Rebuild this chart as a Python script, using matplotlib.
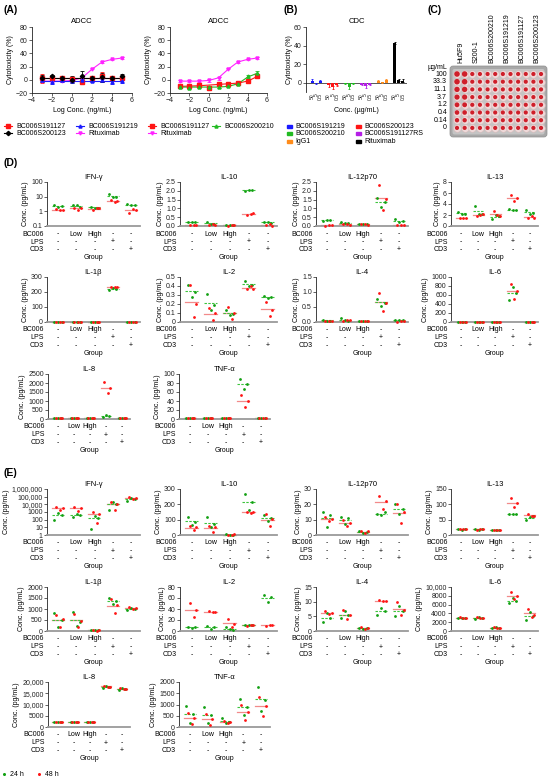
import matplotlib
matplotlib.use('Agg')
import matplotlib.pyplot as plt
import numpy as np
from matplotlib.patches import FancyBboxPatch

plt.rcParams['font.family'] = ['Liberation Sans', 'DejaVu Sans']

# ---------------- DATA ----------------
# Panel A (ADCC)
log_conc = [-3, -2, -1, 0, 1, 2, 3, 4, 5]
a1_s191127 = [2, 3, 2, 1, -3, 3, 5, 3, 3]
a1_s191127_err = [7, 2, 2, 2, 4, 2, 7, 2, 2]
a1_s191127_fit = [2, 2, 2, 2, 2, 2, 2, 2, 2]
a1_s191219 = [0, -3, -1, -2, -1, -2, -1, -4, -2]
a1_s191219_err = [2, 4, 2, 2, 2, 2, 2, 3, 3]
a1_s191219_fit = [-2, -2, -2, -2, -2, -2, -2, -2, -2]
a1_s200123 = [2, 5, 3, 0, 5, 3, 4, 3, 6]
a1_s200123_err = [6, 2, 2, 5, 8, 2, 7, 2, 3]
a1_s200123_fit = [3, 3, 3, 3, 3, 3, 3, 3, 3]
ritux = [-2, -2, -2, -1, 2, 17, 27, 31, 33]
ritux_err = [1, 1, 1, 2, 2, 1, 1, 1, 1]
ritux_fit = [-2, -2, -2, -1, 3, 16, 27, 31, 33]
a2_s191127 = [-10, -10, -8, -13, -6, -6, -5, -2, 5]
a2_s191127_err = [2, 2, 1, 2, 3, 1, 1, 2, 2]
a2_s191127_fit = [-10, -9.5, -9, -8, -7, -6, -5, -2, 5]
a2_s200210 = [-11, -12, -11, -11, -11, -10, -6, 5, 10]
a2_s200210_err = [2, 2, 1, 1, 1, 1, 1, 2, 4]
a2_s200210_fit = [-11, -11, -11, -11, -11, -10, -6, 4, 10]

# Panel B (CDC)
cdc_groups = ['BC006S191219', 'BC006S200123', 'BC006S200210',
              'BC006S191127RS', 'IgG1', 'Rituximab']
cdc_doses = ['50', '5', '0.5']
cdc_values = [[2, -0.5, 1.5], [-3, -5, -3], [-1, -5, -1],
              [-2, -4, -2], [2, 0.5, 3], [43, 3, 2]]
cdc_errors = [[1.5, 0.5, 1], [1.5, 1.5, 1], [0.5, 1.5, 0.5],
              [1, 1.5, 1], [1, 0.3, 1.5], [1, 1.5, 1.5]]

# Panel C (plate)
plate_samples = ['Hu5F9', 'S200-1', 'BC006S200210', 'BC006S191219',
                 'BC006S191127', 'BC006S200123']
plate_conc = ['100', '33.3', '11.1', '3.7', '1.2', '0.4', '0.14', '0']
hu5f9_spot = [16, 16, 15, 14, 12, 11, 10, 9]
other_spot = [9, 9, 9, 9, 9, 9, 9, 9]

# Panels D/E group labels
bc006_row = ['-', 'Low', 'High', '-', '-']
lps_row = ['-', '-', '-', '+', '-']
cd3_row = ['-', '-', '-', '-', '+']

# Panel D cytokines (24 h / 48 h replicates per group)
D_IFNg_24 = [[2.8, 2.0, 2.2], [2.5, 2.5, 2.0], [2.0, 1.8, 1.7], [16, 10, 10], [3.0, 2.5, 2.9]]
D_IFNg_48 = [[1.5, 1.2, 1.2], [1.8, 1.3, 1.7], [1.3, 1.6, 1.7], [6.0, 4.5, 5.0], [0.8, 1.5, 1.3]]
D_IL10_24 = [[0.22, 0.22, 0.22], [0.25, 0.12, 0.10], [0.07, 0.05, 0.03], [2.0, 2.05, 2.05], [0.22, 0.25, 0.15]]
D_IL10_48 = [[0.03, 0.05, 0.07], [0.05, 0.10, 0.06], [0.02, 0.04, 0.03], [0.65, 0.70, 0.75], [0.03, 0.10, 0.02]]
D_IL12_24 = [[0.30, 0.35, 0.35], [0.25, 0.15, 0.15], [0.12, 0.10, 0.14], [1.60, 1.10, 1.35], [0.38, 0.25, 0.28]]
D_IL12_48 = [[0.02, 0.05, 0.08], [0.10, 0.12, 0.08], [0.12, 0.14, 0.05], [2.35, 0.90, 1.55], [0.05, 0.03, 0.07]]
D_IL13_24 = [[2.5, 2.2, 2.2], [3.7, 2.2, 2.2], [1.2, 2.0, 1.9], [3.1, 3.0, 2.9], [3.0, 2.2, 2.3]]
D_IL13_48 = [[1.5, 1.5, 1.5], [1.8, 2.0, 2.2], [2.7, 2.0, 1.9], [5.7, 4.5, 5.1], [1.5, 1.8, 1.5]]
D_IL1b_24 = [[1, 1, 1], [1, 1, 1], [1, 1, 1], [215, 225, 220], [1, 1, 1]]
D_IL1b_48 = [[1, 1, 1], [1, 1, 1], [1, 1, 1], [235, 230, 232], [1, 1, 1]]
D_IL2_24 = [[0.41, 0.28, 0.33], [0.31, 0.13, 0.19], [0.13, 0.08, 0.09], [0.45, 0.40, 0.41], [0.29, 0.27, 0.28]]
D_IL2_48 = [[0.41, 0.05, 0.20], [0.15, 0.02, 0.10], [0.17, 0.03, 0.10], [0.37, 0.40, 0.37], [0.22, 0.07, 0.13]]
D_IL4_24 = [[0.07, 0.04, 0.04], [0.12, 0.05, 0.04], [0.02, 0.02, 0.02], [0.78, 0.53, 0.64], [0.07, 0.06, 0.08]]
D_IL4_48 = [[0.02, 0.03, 0.04], [0.02, 0.05, 0.05], [0.02, 0.02, 0.03], [0.98, 0.36, 0.64], [0.01, 0.02, 0.03]]
D_IL6_24 = [[5, 5, 5], [5, 5, 5], [5, 5, 5], [490, 780, 650], [5, 5, 5]]
D_IL6_48 = [[5, 5, 5], [5, 5, 5], [5, 5, 5], [850, 510, 680], [5, 5, 5]]
D_IL8_24 = [[30, 40, 50], [30, 40, 50], [40, 50, 60], [100, 200, 150], [30, 40, 50]]
D_IL8_48 = [[30, 50, 40], [70, 50, 60], [80, 50, 50], [2080, 1440, 1730], [40, 40, 40]]
D_TNF_24 = [[3, 3, 3], [3, 3, 3], [3, 3, 3], [89, 67, 78], [3, 3, 3]]
D_TNF_48 = [[3, 3, 3], [3, 3, 3], [3, 3, 3], [54, 26, 40], [3, 3, 3]]

# Panel E cytokines
E_IFNg_24 = [[100, 700, 400], [200, 600, 400], [7, 300, 150], [2000, 18000, 12000], [30000, 60000, 45000]]
E_IFNg_48 = [[5000, 2000, 3500], [5000, 1500, 3000], [1000, 40, 500], [20000, 2000, 12000], [100000, 50000, 70000]]
E_IL10_24 = [[120, 65, 85], [115, 55, 70], [4, 3, 2], [270, 160, 215], [130, 90, 110]]
E_IL10_48 = [[60, 30, 55], [60, 20, 55], [3, 2, 4], [148, 146, 150], [135, 60, 105]]
E_IL12_24 = [[15, 5, 13], [11.5, 7.5, 11], [2.5, 1.5, 2], [14, 13, 15], [20, 14, 17]]
E_IL12_48 = [[12, 9, 10.5], [10, 6, 8], [2.5, 1, 2.5], [25.5, 17, 22], [20.5, 8, 15]]
E_IL13_24 = [[18, 17, 19], [19, 17, 18], [16, 15, 17], [70, 70, 70], [50, 60, 61]]
E_IL13_48 = [[18, 18, 18], [17, 19, 18], [16, 16, 16], [120, 90, 105], [70, 62, 63]]
E_IL1b_24 = [[800, 180, 520], [850, 220, 430], [50, 30, 40], [1520, 1230, 1360], [960, 1040, 1000]]
E_IL1b_48 = [[750, 200, 550], [780, 200, 460], [60, 20, 40], [1440, 840, 1170], [1080, 1000, 1040]]
E_IL2_24 = [[8, 5, 8], [10, 4, 7], [7, 3, 2], [11, 11, 11], [66, 52, 62]]
E_IL2_48 = [[51, 25, 38], [36, 34, 35], [21, 8, 13], [10, 11, 10.5], [10, 11, 10.5]]
E_IL4_24 = [[3, 6, 4.5], [4.3, 6.8, 5.6], [1.1, 0.8, 1.1], [5.5, 7.8, 6.8], [5.0, 8.5, 6.9]]
E_IL4_48 = [[6.7, 5.7, 6.2], [7.2, 4.0, 5.6], [1.2, 0.8, 1.0], [10.5, 10.2, 10.2], [9.8, 5.5, 7.2]]
E_IL6_24 = [[3000, 3000, 3000], [2700, 3100, 2900], [600, 800, 700], [6300, 7500, 6900], [2400, 4400, 3400]]
E_IL6_48 = [[3100, 2900, 3000], [3200, 2900, 2900], [900, 600, 750], [8900, 7200, 7900], [5100, 3200, 3700]]
E_IL8_24 = [[2200, 2200, 2200], [2200, 2200, 2200], [2200, 2200, 2200], [17300, 18200, 17900], [16500, 17200, 16700]]
E_IL8_48 = [[2200, 2200, 2200], [2200, 2200, 2200], [2300, 2300, 2300], [18200, 18000, 17900], [17300, 16700, 17000]]
E_TNF_24 = [[940, 180, 560], [870, 170, 520], [380, 200, 230], [1240, 520, 880], [1780, 700, 1210]]
E_TNF_48 = [[620, 130, 390], [600, 110, 370], [250, 200, 210], [990, 320, 670], [1340, 480, 940]]

# ---------------- STYLE / LAYOUT ----------------
W, H = 550, 779
FS = 5
GREEN = '#12a012'
GREEN_L = '#3cc43c'
RED = '#ff1414'
SALMON = '#f28a8a'

fig = plt.figure(figsize=(W / 100, H / 100), dpi=100)
fig.patch.set_facecolor('white')


def add_ax(l, t, r, b):
    ax = fig.add_axes([l / W, 1 - b / H, (r - l) / W, (b - t) / H])
    ax.patch.set_alpha(0)
    return ax


ov = fig.add_axes([0, 0, 1, 1], zorder=10)
ov.set_xlim(0, W)
ov.set_ylim(H, 0)
ov.axis('off')
ov.patch.set_alpha(0)


def style_axes(ax):
    for s in ('top', 'right'):
        ax.spines[s].set_visible(False)
    for s in ('left', 'bottom'):
        ax.spines[s].set_linewidth(0.6)
        ax.spines[s].set_color('#222222')
    ax.tick_params(labelsize=FS, length=2, width=0.5, pad=1, colors='#222222')


# Panel labels
for lab, x, y in (('(A)', 3, 10), ('(B)', 283, 10), ('(C)', 428, 10),
                  ('(D)', 4, 163), ('(E)', 4, 473)):
    ov.text(x, y, lab, fontsize=7.5, fontweight='bold', va='center', ha='left')

# ---------------- PANEL A ----------------
def adcc(ax, series):
    style_axes(ax)
    for vals, err, fit, col, mk in series:
        ax.plot(log_conc, fit, color=col, lw=0.8, zorder=2)
        ax.errorbar(log_conc, vals, yerr=err, fmt=mk, color=col, ms=2.2,
                    elinewidth=0.6, capsize=1.2, capthick=0.6, lw=0, zorder=3)
    ax.set_xlim(-4, 6)
    ax.set_ylim(-20, 80)
    ax.set_xticks([-4, -2, 0, 2, 4, 6])
    ax.set_yticks([-20, 0, 20, 40, 60, 80])
    ax.set_title('ADCC', fontsize=5.5, pad=3)
    ax.set_xlabel('Log Conc. (ng/mL)', fontsize=FS, labelpad=2)
    ax.set_ylabel('Cytotoxicity (%)', fontsize=FS, labelpad=1)


axA1 = add_ax(32, 27, 132, 93)
adcc(axA1, [(ritux, ritux_err, ritux_fit, '#ff22ff', 'v'),
            (a1_s191127, a1_s191127_err, a1_s191127_fit, RED, 's'),
            (a1_s191219, a1_s191219_err, a1_s191219_fit, '#1a1aff', '^'),
            (a1_s200123, a1_s200123_err, a1_s200123_fit, 'black', 'D')])
axA2 = add_ax(170, 27, 267, 93)
adcc(axA2, [(ritux, ritux_err, ritux_fit, '#ff22ff', 'v'),
            (a2_s191127, a2_s191127_err, a2_s191127_fit, RED, 's'),
            (a2_s200210, a2_s200210_err, a2_s200210_fit, '#22bb22', '^')])


def leg_line(x, y, col, mk, text):
    ov.plot([x - 4, x + 4], [y, y], color=col, lw=0.8)
    ov.plot([x], [y], marker=mk, color=col, ms=2.2)
    ov.text(x + 8, y, text, fontsize=FS, va='center', ha='left')


leg_line(8, 126, RED, 's', 'BC006S191127')
leg_line(8, 133, 'black', 'D', 'BC006S200123')
leg_line(80, 126, '#1a1aff', '^', 'BC006S191219')
leg_line(80, 133, '#ff22ff', 'v', 'Rituximab')
leg_line(152, 126, RED, 's', 'BC006S191127')
leg_line(152, 133, '#ff22ff', 'v', 'Rituximab')
leg_line(216, 126, '#22bb22', '^', 'BC006S200210')

# ---------------- PANEL B ----------------
cdc_colors = ['#1a1aff', RED, '#22bb22', '#b41ee6', '#ff8c1a', 'black']
axB = add_ax(306, 27, 407, 92)
style_axes(axB)
axB.spines['bottom'].set_visible(False)
xpos, xlab = [], []
for g, (vals, errs, col) in enumerate(zip(cdc_values, cdc_errors, cdc_colors)):
    xs = [g * 4 + i for i in range(3)]
    axB.bar(xs, vals, width=0.7, color=col, zorder=2)
    axB.errorbar(xs, vals, yerr=errs, fmt='none', ecolor=col, elinewidth=0.6,
                 capsize=1.0, capthick=0.6, zorder=3)
    xpos += xs
    xlab += cdc_doses
axB.axhline(0, color='#555555', lw=0.7, zorder=1)
axB.set_xlim(-1.5, 23)
axB.set_ylim(-10, 60)
axB.set_yticks([0, 20, 40, 60])
axB.set_xticks(xpos)
axB.set_xticklabels(xlab, rotation=90, fontsize=3.6)
axB.tick_params(axis='x', length=0, pad=1)
axB.set_title('CDC', fontsize=5.5, pad=3)
axB.set_ylabel('Cytotoxicity (%)', fontsize=FS, labelpad=1)
ov.text(356, 110, 'Conc. (µg/mL)', fontsize=FS, ha='center', va='center')

for i, (name, col) in enumerate(zip(cdc_groups, cdc_colors)):
    cx = 289 if i % 2 == 0 else 358
    cy = 126 + 7.5 * (i // 2)
    ov.add_patch(plt.Rectangle((cx - 2.5, cy - 1.5), 5, 3, color=col))
    ov.text(cx + 6, cy, name, fontsize=FS, va='center', ha='left')

# ---------------- PANEL C ----------------
px0, py0, pdx, pdy = 457, 74, 7.64, 7.7
ov.add_patch(FancyBboxPatch((450, 66), 97, 71, boxstyle='round,pad=0,rounding_size=3',
                            fc='#a8a8a8', ec='#8f8f8f', lw=0.5))
ov.add_patch(FancyBboxPatch((452.5, 69), 92, 65.5, boxstyle='round,pad=0,rounding_size=2',
                            fc='#c4c4c4', ec='none'))
for r in range(len(plate_conc)):
    for c in range(2 * len(plate_samples)):
        cx, cy = px0 + c * pdx, py0 + r * pdy
        spot = hu5f9_spot[r] if c < 2 else other_spot[r]
        ov.scatter([cx], [cy], s=30, c='#eed9d9', edgecolors='#d7b9b9', linewidths=0.35, zorder=11)
        ov.scatter([cx], [cy], s=spot, c='#cf1f2a', edgecolors='none', zorder=12)
for k, name in enumerate(plate_samples):
    ov.text(px0 + (2 * k + 0.5) * pdx, 63, name, rotation=90, fontsize=FS,
            ha='center', va='bottom')
ov.text(447, 67, 'µg/mL', fontsize=FS, ha='right', va='center')
for r, lab in enumerate(plate_conc):
    ov.text(447, py0 + r * pdy, lab, fontsize=FS, ha='right', va='center')

# ---------------- PANELS D / E ----------------
OFF24 = [-0.2, 0.02, 0.2]
OFF48 = [-0.1, 0.12, 0.26]


def cyto(l, t, r, b, title, d24, d48, ylim, ticks, labels, log=False):
    ax = add_ax(l, t, r, b)
    style_axes(ax)
    ax.spines['bottom'].set_color('#9a9a9a')
    ax.spines['bottom'].set_linewidth(1.3)
    if log:
        ax.set_yscale('log')
    ax.set_ylim(*ylim)
    ax.set_xlim(0.4, 5.5)
    for g in range(5):
        xc = g + 1
        m48 = np.mean(d48[g])
        m24 = np.mean(d24[g])
        ax.plot([xc - 0.33, xc + 0.33], [m48, m48], color=SALMON, lw=0.9, zorder=2, clip_on=False)
        ax.plot([xc - 0.33, xc + 0.33], [m24, m24], color=GREEN_L, lw=0.8,
                ls=(0, (2.2, 1.2)), zorder=2.5, clip_on=False)
        ax.plot([xc + o for o in OFF24], d24[g], 'o', ms=2.0, color=GREEN, mec='none',
                zorder=3, clip_on=False)
        ax.plot([xc + o for o in OFF48], d48[g], 'o', ms=2.0, color=RED, mec='none',
                zorder=3, clip_on=False)
    ax.set_yticks(ticks)
    ax.set_yticklabels(labels)
    ax.yaxis.set_minor_locator(plt.NullLocator())
    ax.set_xticks([])
    ax.set_title(title, fontsize=5.5, pad=2.5)
    ax.set_ylabel('Conc. (pg/mL)', fontsize=FS, labelpad=1.5)
    hpx = b - t
    tr = ax.get_xaxis_transform()
    for dy, name, row in ((8, 'BC006', bc006_row), (16, 'LPS', lps_row), (23.5, 'CD3', cd3_row)):
        yy = -dy / hpx
        ax.text(0.4 - 3 * 5.1 / (r - l), yy, name, transform=tr, fontsize=FS,
                ha='right', va='center', clip_on=False)
        for g, s in enumerate(row):
            ax.text(g + 1, yy, s, transform=tr, fontsize=FS, ha='center', va='center', clip_on=False)
    ax.text(0.5, -31.5 / hpx, 'Group', transform=ax.transAxes, fontsize=FS,
            ha='center', va='center')
    return ax


COLS = [(47, 140), (180, 277), (316, 408), (451, 538)]
ROWS_D = [(182, 226), (277, 322), (374, 419)]
ROWS_E = [(489, 535), (587, 631), (682, 727)]

lin = lambda a: [str(v) for v in a]
f1 = lambda a: ['%.1f' % v for v in a]

D_specs = [
    ('IFN-γ', D_IFNg_24, D_IFNg_48, (0.1, 100), [0.1, 1, 10, 100], ['0.1', '1', '10', '100'], True),
    ('IL-10', D_IL10_24, D_IL10_48, (0, 2.5), [0, 0.5, 1, 1.5, 2, 2.5], f1([0, 0.5, 1, 1.5, 2, 2.5]), False),
    ('IL-12p70', D_IL12_24, D_IL12_48, (0, 2.5), [0, 0.5, 1, 1.5, 2, 2.5], f1([0, 0.5, 1, 1.5, 2, 2.5]), False),
    ('IL-13', D_IL13_24, D_IL13_48, (0, 8), [0, 2, 4, 6, 8], lin([0, 2, 4, 6, 8]), False),
    ('IL-1β', D_IL1b_24, D_IL1b_48, (0, 300), [0, 100, 200, 300], lin([0, 100, 200, 300]), False),
    ('IL-2', D_IL2_24, D_IL2_48, (0, 0.5), [0, 0.1, 0.2, 0.3, 0.4, 0.5], ['0', '0.1', '0.2', '0.3', '0.4', '0.5'], False),
    ('IL-4', D_IL4_24, D_IL4_48, (0, 1.5), [0, 0.5, 1, 1.5], f1([0, 0.5, 1, 1.5]), False),
    ('IL-6', D_IL6_24, D_IL6_48, (0, 1000), [0, 200, 400, 600, 800, 1000], lin([0, 200, 400, 600, 800, 1000]), False),
    ('IL-8', D_IL8_24, D_IL8_48, (0, 2500), [0, 500, 1000, 1500, 2000, 2500], lin([0, 500, 1000, 1500, 2000, 2500]), False),
    ('TNF-α', D_TNF_24, D_TNF_48, (0, 100), [0, 20, 40, 60, 80, 100], lin([0, 20, 40, 60, 80, 100]), False),
]
E_specs = [
    ('IFN-γ', E_IFNg_24, E_IFNg_48, (1, 1e6), [1, 10, 100, 1000, 1e4, 1e5, 1e6],
     ['1', '10', '100', '1000', '10,000', '100,000', '1,000,000'], True),
    ('IL-10', E_IL10_24, E_IL10_48, (0, 300), [0, 100, 200, 300], lin([0, 100, 200, 300]), False),
    ('IL-12p70', E_IL12_24, E_IL12_48, (0, 30), [0, 10, 20, 30], lin([0, 10, 20, 30]), False),
    ('IL-13', E_IL13_24, E_IL13_48, (0, 150), [0, 50, 100, 150], lin([0, 50, 100, 150]), False),
    ('IL-1β', E_IL1b_24, E_IL1b_48, (0, 2000), [0, 500, 1000, 1500, 2000], lin([0, 500, 1000, 1500, 2000]), False),
    ('IL-2', E_IL2_24, E_IL2_48, (0, 80), [0, 20, 40, 60, 80], lin([0, 20, 40, 60, 80]), False),
    ('IL-4', E_IL4_24, E_IL4_48, (0, 15), [0, 5, 10, 15], lin([0, 5, 10, 15]), False),
    ('IL-6', E_IL6_24, E_IL6_48, (0, 10000), [0, 2000, 4000, 6000, 8000, 10000],
     ['0', '2000', '4000', '6000', '8000', '10,000'], False),
    ('IL-8', E_IL8_24, E_IL8_48, (0, 20000), [0, 5000, 10000, 15000, 20000],
     ['0', '5000', '10,000', '15,000', '20,000'], False),
    ('TNF-α', E_TNF_24, E_TNF_48, (0, 2000), [0, 500, 1000, 1500, 2000], lin([0, 500, 1000, 1500, 2000]), False),
]

ROW3_COLS = [(48, 130), (179, 270)]
for specs, rows in ((D_specs, ROWS_D), (E_specs, ROWS_E)):
    for i, sp in enumerate(specs):
        ri, ci = divmod(i, 4)
        l, r = ROW3_COLS[ci] if ri == 2 else COLS[ci]
        t, b = rows[ri]
        cyto(l, t, r, b, *sp)

# bottom legend
ov.plot([4], [774], 'o', ms=2.2, color=GREEN, mec='none')
ov.text(10, 774, '24 h', fontsize=FS, va='center')
ov.plot([39], [774], 'o', ms=2.2, color=RED, mec='none')
ov.text(45, 774, '48 h', fontsize=FS, va='center')

fig.savefig('out.png', dpi=100)
